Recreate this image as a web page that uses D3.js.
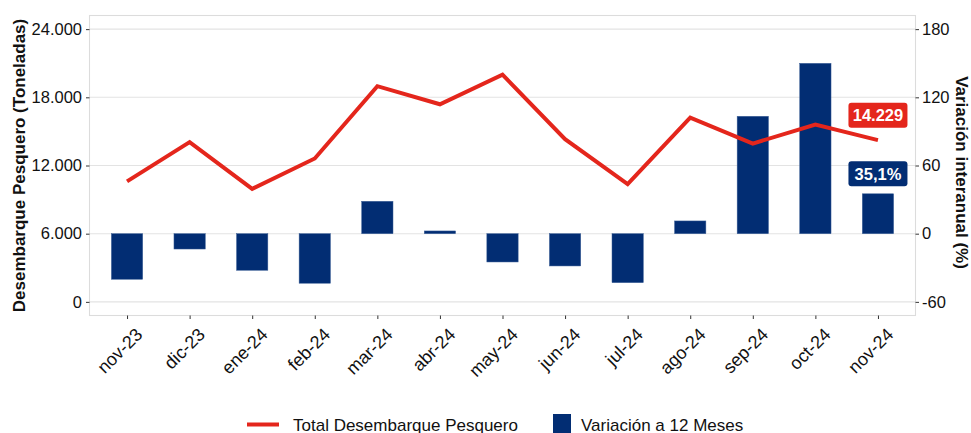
<!DOCTYPE html>
<html><head><meta charset="utf-8">
<script src="https://cdn.jsdelivr.net/npm/d3@7"></script>
<style>body{margin:0;background:#fff;} svg text{font-family:"Liberation Sans", Arial, sans-serif;}</style>
</head><body><svg id="c" width="971" height="433"></svg>
<script>
const categories = ["nov-23","dic-23","ene-24","feb-24","mar-24","abr-24","may-24","jun-24","jul-24","ago-24","sep-24","oct-24","nov-24"];
const desembarque = [10600,14060,9950,12620,18980,17390,20000,14320,10370,16220,13930,15600,14229];
const variacion = [-40.1,-13.5,-32.2,-43.6,28.5,2.4,-24.9,-28.4,-43.1,11.2,103.3,149.9,35.1];
const leftTicks = [0,6000,12000,18000,24000];
const rightTicks = [-60,0,60,120,180];
const lineLabel = "14.229";
const barLabel = "35,1%";

const svg = d3.select("#c");
const L = 89.5, R = 915.5, T = 15.5, B = 315.5;
const x = d3.scalePoint().domain(categories).range([L, R]).padding(0.6);
const y = d3.scaleLinear().domain([-1200, 25200]).range([B, T]);
const yR = d3.scaleLinear().domain([-72, 192]).range([B, T]);
const loc = d3.formatLocale({decimal: ",", thousands: ".", grouping: [3], currency: ["", ""], minus: "-"});
const fmt = loc.format(",");
const fmtR = loc.format("d");

// grid
svg.append("g").selectAll("line").data(leftTicks).join("line")
  .attr("x1", L).attr("x2", R).attr("y1", d => y(d)).attr("y2", d => y(d))
  .attr("stroke", "#e3e3e3").attr("stroke-width", 1.1);
svg.append("rect").attr("x", L).attr("y", T).attr("width", R - L).attr("height", B - T)
  .attr("fill", "none").attr("stroke", "#dcdcdc").attr("stroke-width", 1.1);

// axes
const gl = svg.append("g").attr("transform", `translate(${L},0)`)
  .call(d3.axisLeft(y).tickValues(leftTicks).tickFormat(fmt).tickSize(3.5).tickPadding(4));
const gr = svg.append("g").attr("transform", `translate(${R},0)`)
  .call(d3.axisRight(yR).tickValues(rightTicks).tickFormat(fmtR).tickSize(3.5).tickPadding(3));
const gx = svg.append("g").attr("transform", `translate(0,${B})`)
  .call(d3.axisBottom(x).tickSize(3.5));
[gl, gr, gx].forEach(g => {
  g.select(".domain").remove();
  g.selectAll(".tick line").attr("stroke", "#333");
  g.selectAll(".tick text").attr("fill", "#111").style("font-size", "16.5px");
});
gx.selectAll(".tick text")
  .style("font-size", "18px")
  .attr("text-anchor", "end").attr("dy", null).attr("y", 0)
  .attr("transform", "translate(7,11) rotate(-45)")
  .attr("dominant-baseline", "hanging");

// bars
const bw = x.step() * 0.5;
svg.append("g").selectAll("rect").data(categories).join("rect")
  .attr("x", d => x(d) - bw / 2)
  .attr("width", bw)
  .attr("y", (d, i) => yR(Math.max(0, variacion[i])))
  .attr("height", (d, i) => Math.abs(yR(variacion[i]) - yR(0)))
  .attr("fill", "#022d73").attr("stroke", "#3b5e96").attr("stroke-width", 0.5);

// line
svg.append("path")
  .datum(categories)
  .attr("d", d3.line().x(d => x(d)).y((d, i) => y(desembarque[i])))
  .attr("fill", "none").attr("stroke", "#e4261c").attr("stroke-width", 4)
  .attr("stroke-linejoin", "miter");

// labels
function label(cx, cy, txt, fill) {
  const g = svg.append("g");
  g.append("rect").attr("x", cx - 29.5).attr("y", cy - 12.5).attr("width", 59).attr("height", 25)
    .attr("rx", 3).attr("fill", fill);
  g.append("text").attr("x", cx).attr("y", cy).attr("text-anchor", "middle")
    .attr("dy", "0.36em").attr("fill", "#fff").style("font-size", "16.5px").style("font-weight", "bold").text(txt);
}
const li = categories.length - 1;
label(x(categories[li]), y(desembarque[li]) - 25, lineLabel, "#e4261c");
label(x(categories[li]), yR(variacion[li]) - 20, barLabel, "#022d73");

// axis titles
svg.append("text").attr("transform", `translate(25,${(T + B) / 2}) rotate(-90)`)
  .attr("text-anchor", "middle").style("font-size", "17px").style("font-weight", "bold").attr("fill", "#111")
  .text("Desembarque Pesquero (Toneladas)");
svg.append("text").attr("transform", `translate(956,${(T + B) / 2 + 7}) rotate(90)`)
  .attr("text-anchor", "middle").style("font-size", "17px").style("font-weight", "bold").attr("fill", "#111")
  .text("Variación interanual (%)");

// legend
const lg = svg.append("g");
lg.append("line").attr("x1", 247).attr("x2", 279).attr("y1", 424.5).attr("y2", 424.5)
  .attr("stroke", "#e4261c").attr("stroke-width", 4);
lg.append("text").attr("x", 293).attr("y", 430.5).style("font-size", "17px").attr("fill", "#111").text("Total Desembarque Pesquero");
lg.append("rect").attr("x", 553).attr("y", 414).attr("width", 18).attr("height", 20).attr("fill", "#022d73");
lg.append("text").attr("x", 581).attr("y", 430.5).style("font-size", "17px").attr("fill", "#111").text("Variación a 12 Meses");
</script></body></html>
